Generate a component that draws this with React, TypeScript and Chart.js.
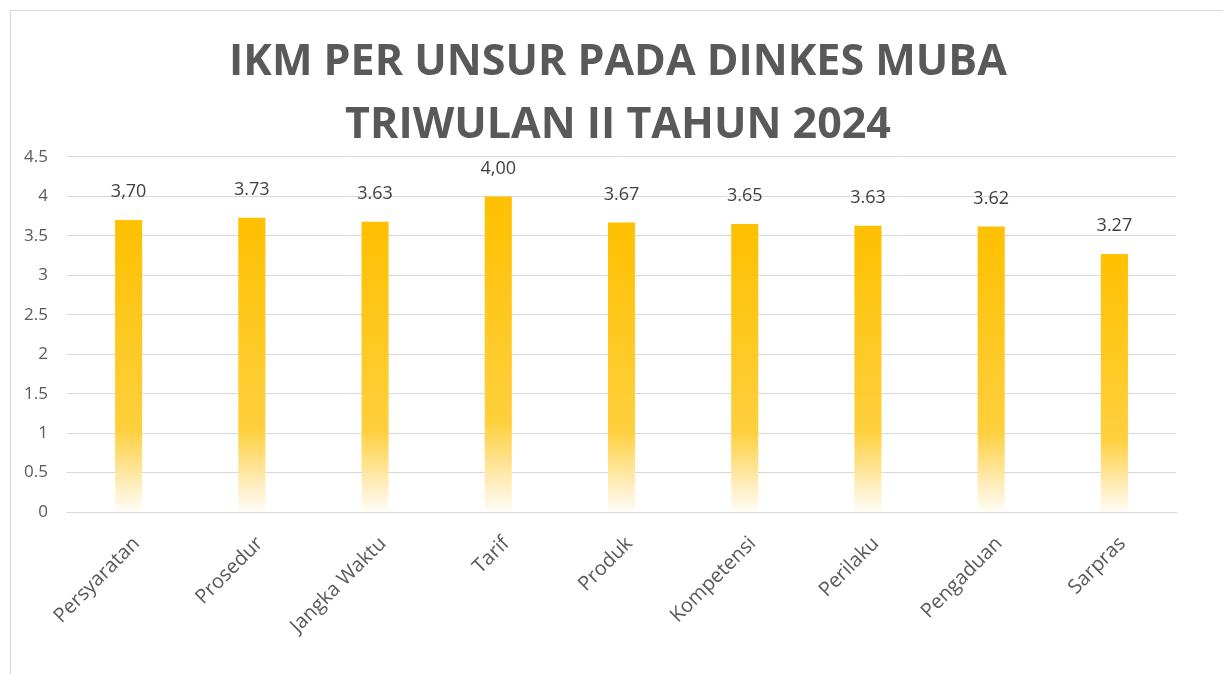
import React, { useEffect, useRef } from "react";
import { Chart, registerables } from "chart.js";

Chart.register(...registerables);

const categories = [
  "Persyaratan",
  "Prosedur",
  "Jangka Waktu",
  "Tarif",
  "Produk",
  "Kompetensi",
  "Perilaku",
  "Pengaduan",
  "Sarpras",
];
const barValues = [3.7, 3.73, 3.68, 4.0, 3.67, 3.65, 3.63, 3.62, 3.27];
const valueLabels = ["3,70", "3.73", "3.63", "4,00", "3.67", "3.65", "3.63", "3.62", "3.27"];
const titleLines = ["IKM PER UNSUR PADA DINKES MUBA", "TRIWULAN II TAHUN 2024"];
const yMax = 4.5;
const yStep = 0.5;

const FONT = "'Open Sans', 'Liberation Sans', sans-serif";

const dataLabelPlugin = {
  id: "dataLabels",
  afterDatasetsDraw(chart: any) {
    const ctx = chart.ctx;
    const meta = chart.getDatasetMeta(0);
    ctx.save();
    ctx.font = `18px ${FONT}`;
    ctx.fillStyle = "#404040";
    ctx.textAlign = "center";
    ctx.textBaseline = "middle";
    meta.data.forEach((el: any, i: number) => {
      ctx.fillText(valueLabels[i], el.x, el.y - 28);
    });
    ctx.restore();
  },
};

export default function App() {
  const ref = useRef<HTMLCanvasElement>(null);
  useEffect(() => {
    document.body.style.margin = "0";
    document.body.style.overflow = "hidden";
    const chart = new Chart(ref.current!, {
      type: "bar",
      data: {
        labels: categories,
        datasets: [
          {
            data: barValues,
            barPercentage: 0.22,
            categoryPercentage: 1,
            backgroundColor: (c: any) => {
              const ch = c.chart;
              const ys = ch.scales?.y;
              if (!ys || c.dataIndex === undefined) return "#FFC000";
              const top = ys.getPixelForValue(barValues[c.dataIndex]);
              const bot = ys.getPixelForValue(0);
              if (!isFinite(top) || !isFinite(bot) || top === bot) return "#FFC000";
              const g = ch.ctx.createLinearGradient(0, top, 0, bot);
              g.addColorStop(0, "#FFC000");
              g.addColorStop(0.72, "#FFD03E");
              g.addColorStop(0.83, "#FFE188");
              g.addColorStop(0.93, "#FFF1CC");
              g.addColorStop(1, "#FFFDF6");
              return g;
            },
            borderWidth: 0,
          },
        ],
      },
      options: {
        animation: false,
        responsive: false,
        maintainAspectRatio: false,
        layout: { padding: 0 },
        plugins: {
          legend: { display: false },
          tooltip: { enabled: false },
          title: {
            display: true,
            text: titleLines,
            color: "#595959",
            font: { family: FONT, size: 43, weight: "bold", lineHeight: 1.465 },
            padding: { top: 20, bottom: 0 },
          },
        },
        scales: {
          y: {
            min: 0,
            max: yMax,
            ticks: {
              stepSize: yStep,
              color: "#595959",
              font: { family: FONT, size: 17 },
              padding: 19,
              callback: (v: any) => String(v),
            },
            grid: { color: "#D9D9D9", lineWidth: 1, drawTicks: false },
            border: { display: false },
            afterFit: (s: any) => {
              s.width = 56;
            },
          },
          yRight: {
            type: "linear",
            position: "right",
            display: true,
            ticks: { display: false },
            grid: { display: false, drawTicks: false },
            border: { display: false },
            afterFit: (s: any) => {
              s.width = 49;
            },
          },
          x: {
            ticks: {
              color: "#595959",
              font: { family: FONT, size: 20 },
              maxRotation: 45,
              minRotation: 45,
              padding: 20,
              labelOffset: 8,
            },
            grid: { display: false, drawTicks: false },
            border: { display: true, color: "#D9D9D9" },
            afterFit: (s: any) => {
              s.height = 159;
            },
          },
        },
      },
      plugins: [dataLabelPlugin],
    });
    return () => chart.destroy();
  }, []);

  return (
    <div
      style={{
        position: "absolute",
        left: 10,
        top: 10,
        width: 1240,
        height: 700,
        border: "1px solid #D9D9D9",
        background: "#fff",
      }}
    >
      <canvas ref={ref} width={1214} height={660} style={{ display: "block" }} />
    </div>
  );
}
